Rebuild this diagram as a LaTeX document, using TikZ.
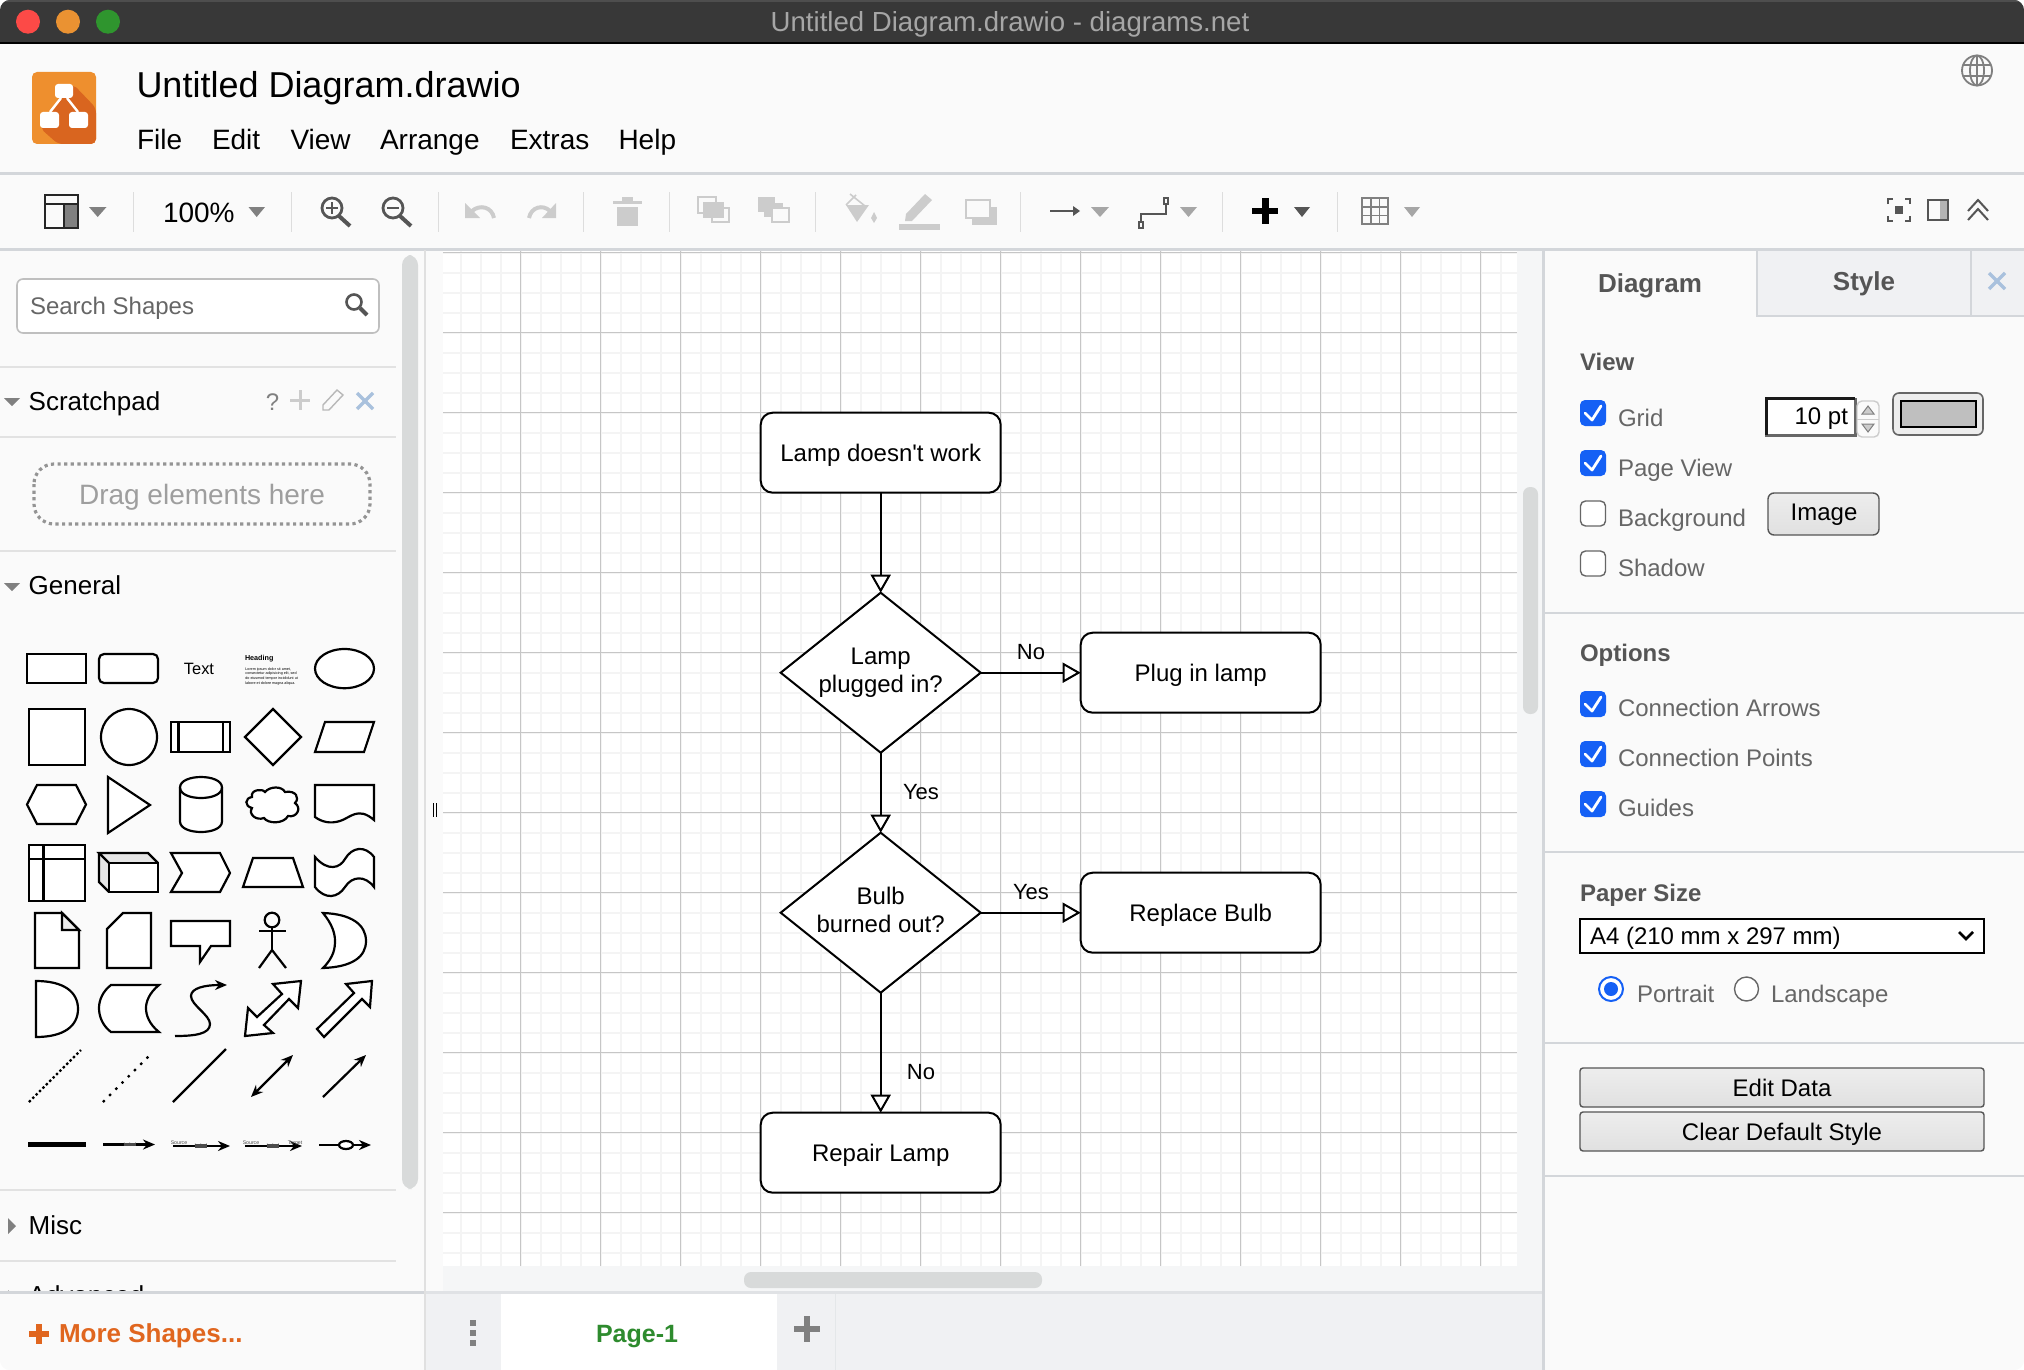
\documentclass[tikz,border=0pt]{standalone}
\usepackage{fontspec}
\setmainfont{Liberation Sans}
\newfontfamily\straightfont{Liberation Sans}
\usetikzlibrary{arrows.meta,shapes.geometric}
\definecolor{barblack}{HTML}{383838}
\definecolor{barlight}{HTML}{4E4E4E}
\definecolor{barred}{HTML}{FC4A47}
\definecolor{barorange}{HTML}{EA9232}
\definecolor{bargreen}{HTML}{2F952E}
\definecolor{chromebg}{HTML}{FAFAFA}
\definecolor{rulegrey}{HTML}{D3D6DA}
\definecolor{sidegrey}{HTML}{E2E2E2}
\definecolor{sepgrey}{HTML}{DDDDDD}
\definecolor{icondark}{HTML}{555555}
\definecolor{iconmid}{HTML}{808080}
\definecolor{iconlight}{HTML}{CCCCCC}
\definecolor{crossblue}{HTML}{A9C1DD}
\definecolor{scrollgrey}{HTML}{D8DADA}
\definecolor{stripbg}{HTML}{F5F6F7}
\definecolor{tabbg}{HTML}{F0F1F3}
\definecolor{gridminor}{HTML}{F4F4F4}
\definecolor{gridmajor}{HTML}{C6C6C6}
\definecolor{logoorange}{HTML}{EE8F2E}
\definecolor{logodark}{HTML}{D9651F}
\definecolor{moreorange}{HTML}{E0661F}
\definecolor{pagegreen}{HTML}{2E8B2E}
\definecolor{checkblue}{HTML}{1560F5}
\definecolor{paneltextgrey}{HTML}{666666}
\tikzset{
  uitext/.style={anchor=base west,inner sep=0pt,outer sep=0pt},
  menutext/.style={uitext,black,font=\fontsize{14}{16}\selectfont},
  sidetext/.style={uitext,black,font=\fontsize{13}{15}\selectfont},
  paneltext/.style={uitext,paneltextgrey,font=\fontsize{12}{14}\selectfont},
  panelhead/.style={uitext,icondark,font=\bfseries\fontsize{12}{14}\selectfont},
  tabhead/.style={anchor=base,inner sep=0pt,outer sep=0pt,icondark,font=\bfseries\fontsize{13}{15}\selectfont},
  btntext/.style={anchor=base,inner sep=0pt,outer sep=0pt,black,font=\fontsize{12}{14}\selectfont},
  flowbox/.style={draw,fill=white,line width=1pt,rounded corners=6pt,inner sep=0pt,outer sep=0pt,
    minimum width=120pt,minimum height=40pt,text height=9.2pt,text depth=0pt,font=\fontsize{12}{14}\selectfont},
  flowdiamond/.style={draw,fill=white,diamond,line width=1pt,inner sep=0pt,outer sep=0pt,aspect=1.25,
    minimum width=100pt,minimum height=80pt,align=center,font=\fontsize{12}{14}\selectfont},
  flowarrow/.style={line width=1pt,-{Triangle[fill=white,length=9pt,width=10pt]}},
  edgelabel/.style={inner sep=0pt,outer sep=0pt,font=\fontsize{11}{13}\selectfont},
  shapeline/.style={draw=black,fill=white,line width=1.1pt,line join=miter},
  bareline/.style={draw=black,line width=1.1pt},
  stealtharrow/.style={bareline,-{Stealth[length=6pt,width=5pt]}},
  tinytext/.style={inner sep=0pt,outer sep=0pt,fill=chromebg,black!70,font=\fontsize{2.6}{3}\selectfont},
  sepline/.style={sepgrey,line width=0.5pt},
  sideline/.style={sidegrey,line width=1pt},
  panelline/.style={rulegrey,line width=1pt},
  tickline/.style={white,line width=1.4pt,line cap=round,line join=round},
  bluebox/.style={fill=checkblue,rounded corners=2.5pt},
  openbox/.style={draw=paneltextgrey,fill=white,line width=0.7pt,rounded corners=2.5pt},
  wideknob/.style={fill=scrollgrey,rounded corners=3.5pt},
  pushbtn/.style={draw=icondark,line width=0.7pt,rounded corners=1.5pt,top color=white!93!black,bottom color=white!88!black},
}
\begin{document}
\begin{tikzpicture}[x=0.5pt,y=-0.5pt]
\useasboundingbox (0,0) rectangle (2024,1370);
\clip[rounded corners=5pt] (0,0) rectangle (2024,1370);
\fill[chromebg] (0,0) rectangle (2024,1370);
% title bar
\fill[barblack] (0,0) rectangle (2024,43);
\fill[barlight] (0,0) rectangle (2024,2);
\fill[black] (0,42) rectangle (2024,44);
\fill[barred] (28,21.7) circle (12);
\fill[barorange] (68,21.7) circle (12);
\fill[bargreen] (108,21.7) circle (12);
\draw (1010,24) node[inner sep=0pt,white!65!black,font=\fontsize{13.8}{15}\selectfont] (windowtitle) {Untitled Diagram.drawio - diagrams.net};
% header
\fill[logoorange,rounded corners=2.5pt] (32,72) rectangle (96,144);
\fill[logodark,rounded corners=2.5pt] (73,84) -- (96,108) -- (96,144) -- (58,144) -- (40,128) -- cycle;
\fill[white,rounded corners=1.5pt] (55,84) rectangle (73,98);
\fill[white,rounded corners=1.5pt] (40,112) rectangle (59,128);
\fill[white,rounded corners=1.5pt] (69,112) rectangle (88,128);
\draw[white,line width=1.2pt] (61,98) -- (50,112);
\draw[white,line width=1.2pt] (67,98) -- (78,112);
\draw (136.5,97.5) node[uitext,black,font=\fontsize{18}{20}\selectfont] (filename) {Untitled Diagram.drawio};
\draw (137,149.5) node[menutext] (menufile) {File};
\draw (212,149.5) node[menutext] (menuedit) {Edit};
\draw (290.5,149.5) node[menutext] (menuview) {View};
\draw (380,149.5) node[menutext] (menuarrange) {Arrange};
\draw (510,149.5) node[menutext] (menuextras) {Extras};
\draw (618.5,149.5) node[menutext] (menuhelp) {Help};
\draw[iconmid,line width=0.9pt] (1977,70.5) circle (15);
\draw[iconmid,line width=0.9pt] (1977,70.5) ellipse (7 and 15);
\draw[iconmid,line width=0.9pt] (1977,55.5) -- (1977,85.5);
\draw[iconmid,line width=0.9pt] (1963,65) -- (1991,65);
\draw[iconmid,line width=0.9pt] (1963,76) -- (1991,76);
\fill[rulegrey] (0,172) rectangle (2024,174.5);
% toolbar
\fill[rulegrey] (0,248) rectangle (2024,250.5);
\draw[sepline] (133.6,192) -- (133.6,232);
\draw[sepline] (291,192) -- (291,232);
\draw[sepline] (438,192) -- (438,232);
\draw[sepline] (583.5,192) -- (583.5,232);
\draw[sepline] (669.5,192) -- (669.5,232);
\draw[sepline] (815,192) -- (815,232);
\draw[sepline] (1020,192) -- (1020,232);
\draw[sepline] (1222,192) -- (1222,232);
\draw[sepline] (1337,192) -- (1337,232);
\fill[iconmid] (64,204) rectangle (78,228);
\draw[black!85,line width=1pt] (45,195) rectangle (78,228);
\draw[black!85,line width=1pt] (45,204) -- (78,204);
\draw[black!85,line width=1pt] (64,204) -- (64,228);
\fill[iconmid] (89,207) -- (106.5,207) -- (97.7,217) -- cycle;
\draw (163,222) node[menutext] (zoomlevel) {100\%};
\fill[iconmid] (248.5,207) -- (265,207) -- (256.7,217) -- cycle;
\draw[icondark,line width=1.4pt] (332,208) circle (10);
\draw[icondark,line width=2pt] (339,216) -- (350,226);
\draw[icondark,line width=0.8pt] (326,208) -- (338,208);
\draw[icondark,line width=0.8pt] (332,202) -- (332,214);
\draw[icondark,line width=1.4pt] (393,208) circle (10);
\draw[icondark,line width=2pt] (400,216) -- (411,226);
\draw[icondark,line width=0.8pt] (387,208) -- (399,208);
\draw[iconlight,line width=2pt] (494,218) .. controls (492,207) and (480,204) .. (472,211);
\fill[iconlight] (465,203) -- (465,218) -- (480,218) -- cycle;
\draw[iconlight,line width=2pt] (529,218) .. controls (531,207) and (543,204) .. (550,211);
\fill[iconlight] (556,203) -- (556,218) -- (542,218) -- cycle;
\fill[iconlight] (613,201) rectangle (642,204);
\fill[iconlight] (622,197) rectangle (633,201);
\fill[iconlight] (617,207) rectangle (638,226);
\draw[iconlight,line width=0.8pt] (698,197) rectangle (716,213);
\draw[iconlight,line width=0.8pt] (712,208) rectangle (729,222);
\fill[iconlight] (703,202) rectangle (724,218);
\fill[iconlight] (758,197) rectangle (775,212);
\fill[iconlight] (764,203) rectangle (783,217);
\draw[iconlight,line width=0.8pt,fill=chromebg] (772,208) rectangle (789,222);
\fill[iconlight] (846,205) -- (869,205) -- (857,222) -- cycle;
\draw[iconlight,line width=0.8pt] (850,194) -- (865,206);
\draw[iconlight,line width=0.8pt] (846,205) -- (856,195);
\fill[iconlight] (874,212) -- (877,218) -- (874,223) -- (871,218) -- cycle;
\fill[iconlight] (905,221) -- (906,214) -- (925,194) -- (932,200) -- (912,221) -- cycle;
\fill[iconlight] (899,224) rectangle (940,230);
\fill[iconlight] (972,207) rectangle (997,225);
\draw[iconlight,line width=1pt,fill=chromebg] (966,200) rectangle (990,218);
\draw[icondark,line width=1pt] (1050,211) -- (1074,211);
\fill[icondark] (1073,206) -- (1080,211) -- (1073,216) -- cycle;
\fill[iconmid!70] (1091,207) -- (1109,207) -- (1100,217) -- cycle;
\draw[icondark,line width=0.8pt] (1141,222) -- (1141,214) -- (1166,214) -- (1166,204);
\draw[icondark,line width=0.6pt] (1139,222) rectangle (1143,228);
\draw[icondark,line width=0.6pt] (1164,198) rectangle (1168,204);
\fill[iconmid!70] (1180,207) -- (1197,207) -- (1188.5,217) -- cycle;
\fill[black] (1252,208) rectangle (1278,214);
\fill[black] (1261.5,198) rectangle (1268.5,224);
\fill[icondark] (1294,207) -- (1310,207) -- (1302,217) -- cycle;
\draw[iconmid,line width=0.8pt] (1362,198) rectangle (1388,224);
\draw[iconmid,line width=0.8pt] (1370.7,198) -- (1370.7,224);
\draw[iconmid,line width=0.8pt] (1379.3,198) -- (1379.3,224);
\draw[iconmid,line width=0.8pt] (1362,206.7) -- (1388,206.7);
\draw[iconmid,line width=0.8pt] (1362,215.3) -- (1388,215.3);
\fill[iconmid!70] (1404,207) -- (1420,207) -- (1412,217) -- cycle;
\draw[icondark,line width=1.2pt] (1888,204) -- (1888,199) -- (1893,199);
\draw[icondark,line width=1.2pt] (1905,199) -- (1910,199) -- (1910,204);
\draw[icondark,line width=1.2pt] (1888,216) -- (1888,221) -- (1893,221);
\draw[icondark,line width=1.2pt] (1905,221) -- (1910,221) -- (1910,216);
\fill[icondark] (1895,206) rectangle (1903,214);
\fill[iconmid!60] (1940,200) rectangle (1948,220);
\draw[icondark,line width=0.8pt] (1928,200) rectangle (1948,220);
\draw[icondark,line width=1pt] (1968,211) -- (1978,200) -- (1988,211);
\draw[icondark,line width=1pt] (1968,220) -- (1978,209) -- (1988,220);
% canvas
\fill[stripbg] (443,250.5) rectangle (1543,1291);
\fill[white] (443,250.5) rectangle (1517,1266);
\begin{scope}[x=0.5pt,y=0.5pt,xshift=20.35pt,yshift=-6.35pt]
\draw[gridminor,line width=0.9pt,step=20] (402.3,-238) grid (1476.3,-1253.3);
\draw[gridmajor,line width=0.5pt,step=80] (402.3,-238) grid (1476.3,-1253.3);
\end{scope}
% flowchart
\draw (880.7,452.7) node[flowbox] (lampdead) {Lamp doesn{\straightfont'}t work};
\draw (880.7,672.7) node[flowdiamond] (pluggedin) {Lamp\\plugged in?};
\draw (1200.7,672.7) node[flowbox] (pluglamp) {Plug in lamp};
\draw (880.7,912.7) node[flowdiamond] (burnedout) {Bulb\\burned out?\vphantom{p}};
\draw (1200.7,912.7) node[flowbox] (replacebulb) {Replace Bulb};
\draw (880.7,1152.7) node[flowbox] (repairlamp) {Repair Lamp};
\draw[flowarrow] (lampdead) -- (pluggedin);
\draw[flowarrow] (pluggedin) -- (pluglamp);
\draw[flowarrow] (pluggedin) -- (burnedout);
\draw[flowarrow] (burnedout) -- (replacebulb);
\draw[flowarrow] (burnedout) -- (repairlamp);
\draw (1031,652) node[edgelabel] (labelno) {No};
\draw (921,792) node[edgelabel] (labelyes) {Yes};
\draw (1031,892) node[edgelabel] (labelbulbyes) {Yes};
\draw (921,1072) node[edgelabel] (labelbulbno) {No};
% scrollbars and tabs
\fill[wideknob] (1523,487) rectangle (1538,714);
\fill[wideknob] (744,1272) rectangle (1042,1288);
\fill[rulegrey!70] (426,1291) rectangle (1543,1293.5);
\fill[tabbg] (426,1293.5) rectangle (1543,1370);
\fill[white] (501,1293.5) rectangle (777,1370);
\draw[rulegrey!60,line width=0.5pt] (835.5,1293.5) -- (835.5,1370);
\fill[iconmid] (470,1320) rectangle (476,1326);
\fill[iconmid] (470,1330) rectangle (476,1336);
\fill[iconmid] (470,1340) rectangle (476,1346);
\draw (637,1342) node[anchor=base,inner sep=0pt,pagegreen,font=\bfseries\fontsize{12.5}{14}\selectfont] (pagetab) {Page-1};
\fill[iconmid] (794,1326) rectangle (820,1332);
\fill[iconmid] (804,1316) rectangle (810,1342);
% sidebar
\draw[white!88!black,line width=1pt] (425,250) -- (425,1370);
\draw (433.5,803) -- (433.5,817);
\draw (436.5,803) -- (436.5,817);
\fill[wideknob,rounded corners=5pt] (402,255) rectangle (418,1189);
\draw[draw=white!75!black,fill=white,line width=0.8pt,rounded corners=3pt] (17,279) rectangle (379,333);
\draw (30,314) node[uitext,paneltextgrey,font=\fontsize{12}{14}\selectfont] (searchshapes) {Search Shapes};
\draw[icondark,line width=1.3pt] (354,302) circle (7.5);
\draw[icondark,line width=2pt] (360,308) -- (367,315);
\draw[sideline] (0,367) -- (396,367);
\draw[sideline] (0,437) -- (396,437);
\draw[sideline] (0,551) -- (396,551);
\draw[sideline] (0,1190) -- (396,1190);
\draw[sideline] (0,1261) -- (396,1261);
\fill[iconmid] (4,398) -- (20,398) -- (12,406) -- cycle;
\draw (28.7,410) node[sidetext] (scratchpad) {Scratchpad};
\draw (272.5,410) node[anchor=base,inner sep=0pt,iconmid,font=\fontsize{12}{14}\selectfont] (helpmark) {?};
\fill[iconlight] (290,398.5) rectangle (310,401.5);
\fill[iconlight] (298.5,390) rectangle (301.5,410);
\draw[iconlight!90!black,line width=0.7pt] (323,405) -- (337,390) -- (343,395) -- (329,410) -- (323,410) -- cycle;
\draw[crossblue,line width=1.7pt] (357,393) -- (373,409);
\draw[crossblue,line width=1.7pt] (373,393) -- (357,409);
\draw[white!58!black,line width=1.6pt,dash pattern=on 1.6pt off 1.7pt,rounded corners=10pt] (34,464) rectangle (370,524);
\draw (202,504.5) node[anchor=base,inner sep=0pt,white!62!black,font=\fontsize{14}{16}\selectfont] (dragnote) {Drag elements here};
\fill[iconmid] (4,583) -- (20,583) -- (12,591) -- cycle;
\draw (28.7,594) node[sidetext] (general) {General};
\fill[iconmid] (8,1218) -- (16,1226) -- (8,1234) -- cycle;
\draw (28.7,1234) node[sidetext] (misc) {Misc};
\fill[iconmid] (8,1290) -- (16,1298) -- (8,1306) -- cycle;
\draw (28.7,1304.5) node[sidetext] (advanced) {Advanced};
% palette
\draw[shapeline] (27,654) rectangle (86,683);
\draw[shapeline,rounded corners=2.5pt] (99,654) rectangle (158,683);
\draw (199,669) node[inner sep=0pt,black,font=\fontsize{8.2}{9}\selectfont] (texttile) {Text};
\draw (245,660) node[uitext,black,font=\bfseries\fontsize{3.6}{4}\selectfont] (headingtile) {Heading};
\draw (245,667) node[anchor=north west,inner sep=0pt,align=left,black,font=\fontsize{1.85}{2.35}\selectfont] (loremtile) {Lorem ipsum dolor sit amet,\\consectetur adipisicing elit, sed\\do eiusmod tempor incididunt ut\\labore et dolore magna aliqua.};
\draw[shapeline] (344.5,668.6) ellipse (29.5 and 19.6);
\draw[shapeline] (29,709) rectangle (85,765);
\draw[shapeline] (129,737) circle (28);
\draw[shapeline] (171,722) rectangle (230,752);
\draw[bareline] (178.5,722) -- (178.5,752);
\draw[bareline] (223,722) -- (223,752);
\draw[shapeline] (245,737) -- (273,709) -- (301,737) -- (273,765) -- cycle;
\draw[shapeline] (315,752) -- (325,722) -- (374,722) -- (364,752) -- cycle;
\draw[shapeline] (27,804.5) -- (37,785) -- (76,785) -- (86,804.5) -- (76,824) -- (37,824) -- cycle;
\draw[shapeline] (108,777) -- (150,805) -- (108,833) -- cycle;
\draw[shapeline] (180,787.5) .. controls (180,773.5) and (222,773.5) .. (222,787.5) -- (222,821.5) .. controls (222,835.5) and (180,835.5) .. (180,821.5) -- cycle;
\draw[bareline] (180,787.5) .. controls (180,801.5) and (222,801.5) .. (222,787.5);
\draw[shapeline] (252,797) .. controls (250,790) and (262,788) .. (265,792) .. controls (270,786) and (282,786) .. (285,792) .. controls (296,790) and (300,798) .. (295,803) .. controls (302,808) and (297,818) .. (288,816) .. controls (284,824) and (268,824) .. (264,818) .. controls (256,821) and (248,814) .. (252,808) .. controls (244,806) and (245,798) .. (252,797) -- cycle;
\draw[shapeline] (315,785) -- (374,785) -- (374,820) .. controls (358,806) and (350,818) .. (340,821) .. controls (330,824) and (322,822) .. (315,817) -- cycle;
\draw[shapeline] (29,845) rectangle (85,901);
\draw[bareline] (43.5,845) -- (43.5,901);
\draw[bareline] (29,859) -- (85,859);
\fill[white!90!black] (99,853) -- (148,853) -- (158,863) -- (109,863) -- (109,892) -- (99,882) -- cycle;
\draw[shapeline] (109,863) rectangle (158,892);
\draw[bareline] (109,863) -- (99,853) -- (148,853) -- (158,863);
\draw[bareline] (99,853) -- (99,882) -- (109,892);
\draw[shapeline] (171,853) -- (220,853) -- (230,873) -- (220,892) -- (171,892) -- (182,873) -- cycle;
\draw[shapeline] (243,887) -- (253,858) -- (293,858) -- (303,887) -- cycle;
\draw[shapeline] (315,857) .. controls (328,872) and (340,868) .. (345,859) .. controls (352,847) and (365,845) .. (374,857) -- (374,887) .. controls (365,875) and (352,876) .. (345,887) .. controls (338,898) and (325,900) .. (315,887) -- cycle;
\draw[shapeline] (35,913) -- (62,913) -- (79,930) -- (79,968) -- (35,968) -- cycle;
\draw[bareline,fill=white!92!black] (62,913) -- (62,930) -- (79,930) -- cycle;
\draw[shapeline] (107,929) -- (123,913) -- (151,913) -- (151,968) -- (107,968) -- cycle;
\draw[shapeline] (171,921) -- (230,921) -- (230,946) -- (211,946) -- (200,962) -- (200,946) -- (171,946) -- cycle;
\draw[bareline] (272,920) circle (7.3);
\draw[bareline] (272,927.3) -- (272,950);
\draw[bareline] (259,931) -- (286,931);
\draw[bareline] (259,968) -- (272,950) -- (286,968);
\draw[shapeline] (323,913) .. controls (352,914) and (366,925) .. (366,941) .. controls (366,957) and (352,967) .. (323,968) .. controls (334,957) and (335,948) .. (335,941) .. controls (335,933) and (332,924) .. (323,913) -- cycle;
\draw[shapeline] (36,981) .. controls (64,981) and (78,992) .. (78,1009) .. controls (78,1026) and (64,1037) .. (36,1037) -- cycle;
\draw[shapeline] (111,985) -- (159,985) .. controls (149,993) and (146,1002) .. (146,1008) .. controls (146,1015) and (149,1024) .. (159,1032) -- (111,1032) .. controls (103,1026) and (99,1017) .. (99,1008) .. controls (99,1000) and (103,991) .. (111,985) -- cycle;
\draw[stealtharrow] (175,1036) .. controls (195,1036) and (210,1034) .. (210,1024) .. controls (210,1015) and (191,1005) .. (191,996) .. controls (191,988) and (205,985) .. (227,985);
\draw[shapeline] (301,981) -- (273,984) -- (282,994) -- (257,1017) -- (248,1008) -- (245,1036) -- (273,1033) -- (264,1025) -- (289,999) -- (298,1008) -- cycle;
\draw[shapeline] (372,981) -- (346,984) -- (354,993) -- (317,1029) -- (324,1037) -- (362,999) -- (370,1007) -- cycle;
\draw[bareline,dash pattern=on 1.2pt off 1.2pt] (29,1102) -- (81,1050);
\draw[bareline,dash pattern=on 1.2pt off 3.2pt] (103,1102) -- (151,1054);
\draw[bareline] (173,1102) -- (226,1049);
\draw[stealtharrow,{Stealth[length=6pt,width=5pt]}-{Stealth[length=6pt,width=5pt]}] (251,1097) -- (293,1055);
\draw[stealtharrow] (323,1097) -- (366,1055);
\fill[black] (28,1142) rectangle (86,1147);
\draw[stealtharrow] (103,1144.5) -- (155,1144.5);
\draw (130,1144.5) node[tinytext] (arrowlabel) {Label};
\draw[stealtharrow] (173,1146) -- (230,1146);
\draw (201,1146) node[tinytext] (srclabel) {Label};
\draw (179,1143) node[inner sep=0pt,black!70,font=\fontsize{2.6}{3}\selectfont] (srcname) {Source};
\draw[stealtharrow] (245,1146) -- (302,1146);
\draw (273,1146) node[tinytext] (bothlabel) {Label};
\draw (251,1143) node[inner sep=0pt,black!70,font=\fontsize{2.6}{3}\selectfont] (bothsrc) {Source};
\draw (295,1143) node[inner sep=0pt,black!70,font=\fontsize{2.6}{3}\selectfont] (bothtgt) {Target};
\draw[stealtharrow] (319,1145) -- (371,1145);
\draw[shapeline] (346,1145) ellipse (7 and 4);
% sidebar footer
\fill[chromebg] (0,1292) rectangle (424,1370);
\fill[rulegrey] (0,1291) rectangle (424,1293.5);
\fill[moreorange] (29,1331) rectangle (48.5,1337);
\fill[moreorange] (36,1324) rectangle (42,1344);
\draw (59,1342) node[uitext,moreorange,font=\bfseries\fontsize{13}{15}\selectfont] (moreshapes) {More Shapes...};
% right panel
\fill[chromebg] (1543,250.5) rectangle (2024,1370);
\fill[rulegrey] (1542,250.5) rectangle (1545,1370);
\fill[tabbg] (1757,250.5) rectangle (2024,316);
\draw[rulegrey,line width=1pt] (1757,250.5) -- (1757,316) -- (2024,316);
\draw[rulegrey,line width=1pt] (1971,250.5) -- (1971,316);
\draw (1650,292) node[tabhead] (tabdiagram) {Diagram};
\draw (1864,290) node[tabhead] (tabstyle) {Style};
\draw[crossblue,line width=1.7pt] (1989,273) -- (2005,289);
\draw[crossblue,line width=1.7pt] (2005,273) -- (1989,289);
\draw (1580,370) node[panelhead] (viewhead) {View};
\fill[bluebox] (1580,400) rectangle (1606,426);
\draw[tickline] (1585,413) -- (1592,420) -- (1601,406);
\draw (1618,426) node[paneltext] (gridtext) {Grid};
\fill[bluebox] (1580,450) rectangle (1606,476);
\draw[tickline] (1585,463) -- (1592,470) -- (1601,456);
\draw (1618,476) node[paneltext] (pageview) {Page View};
\draw[openbox] (1580.5,501) rectangle (1605.5,526);
\draw (1618,526) node[paneltext] (background) {Background};
\draw[openbox] (1580.5,551) rectangle (1605.5,576);
\draw (1618,576) node[paneltext] (shadowtext) {Shadow};
\fill[white] (1765,397) rectangle (1855,435);
\draw[iconmid!80!black,line width=1.5pt] (1765,435) -- (1855,435) -- (1855,398);
\draw[black!90,line width=1.5pt] (1766,435) -- (1766,398) -- (1855,398);
\draw (1848,424) node[uitext,anchor=base east,black,font=\fontsize{12}{14}\selectfont] (gridsize) {10 pt};
\draw[white!80!black,line width=0.7pt,rounded corners=2.5pt] (1857,401) rectangle (1879,437);
\draw[white!80!black,line width=0.5pt] (1857,419) -- (1879,419);
\draw[iconmid,fill=iconlight,line width=0.5pt] (1862,414) -- (1868,406) -- (1874,414) -- cycle;
\draw[iconmid,fill=iconlight,line width=0.5pt] (1862,424) -- (1868,432) -- (1874,424) -- cycle;
\draw[draw=iconmid!80!black,fill=white!93!black,line width=0.8pt,rounded corners=3pt] (1893,393) rectangle (1983,435);
\draw[black,fill=white!75!black,line width=1pt] (1901,401) rectangle (1976,427);
\draw[pushbtn,rounded corners=3pt] (1768,493) rectangle (1879,535);
\draw (1824,520) node[btntext] (imagebtn) {Image};
\draw[panelline] (1545,613) -- (2024,613);
\draw (1580,661) node[panelhead] (optionshead) {Options};
\fill[bluebox] (1580,691) rectangle (1606,717);
\draw[tickline] (1585,704) -- (1592,711) -- (1601,697);
\draw (1618,716) node[paneltext] (connarrows) {Connection Arrows};
\fill[bluebox] (1580,741) rectangle (1606,767);
\draw[tickline] (1585,754) -- (1592,761) -- (1601,747);
\draw (1618,766) node[paneltext] (connpoints) {Connection Points};
\fill[bluebox] (1580,791) rectangle (1606,817);
\draw[tickline] (1585,804) -- (1592,811) -- (1601,797);
\draw (1618,816) node[paneltext] (guides) {Guides};
\draw[panelline] (1545,852) -- (2024,852);
\draw (1580,901) node[panelhead] (papersize) {Paper Size};
\draw[black,fill=white,line width=0.7pt] (1580,919) rectangle (1984,953);
\draw (1590,944) node[uitext,black,font=\fontsize{12}{14}\selectfont] (papervalue) {A4 (210 mm x 297 mm)};
\draw[black,line width=1.3pt] (1959,932) -- (1966,939) -- (1973,932);
\draw[checkblue,fill=white,line width=1pt] (1611,989) circle (12);
\fill[checkblue] (1611,989) circle (7);
\draw (1637,1002) node[paneltext] (portrait) {Portrait};
\draw[paneltextgrey,fill=white,line width=0.7pt] (1746.5,989) circle (12);
\draw (1771,1002) node[paneltext] (landscape) {Landscape};
\draw[panelline] (1545,1043) -- (2024,1043);
\draw[pushbtn] (1580,1068) rectangle (1984,1107);
\draw (1782,1096) node[btntext] (editdata) {Edit Data};
\draw[pushbtn] (1580,1112) rectangle (1984,1151);
\draw (1782,1140) node[btntext] (cleardefault) {Clear Default Style};
\draw[panelline] (1545,1176) -- (2024,1176);
\end{tikzpicture}
\end{document}
